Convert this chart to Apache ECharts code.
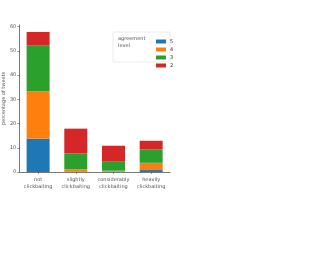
<!DOCTYPE html>
<html><head><meta charset="utf-8">
<script src="https://cdn.jsdelivr.net/npm/echarts@6/dist/echarts.min.js"></script>
<style>html,body{margin:0;padding:0;background:#fff}#c{width:332px;height:278px}</style>
</head><body><div id="c"></div>
<script>
var categories = ['not\nclickbaiting', 'slightly\nclickbaiting', 'considerably\nclickbaiting', 'heavily\nclickbaiting'];
var level5 = [13.8, 0.1, 0.15, 0.8];
var level4 = [19.5, 1.0, 0.4, 3.0];
var level3 = [19.0, 6.6, 3.7, 5.5];
var level2 = [5.5, 10.2, 6.6, 3.6];
var yTicks = [0, 10, 20, 30, 40, 50, 60];
var names = ['5', '4', '3', '2'];
var colors = ['#1f77b4', '#ff7f0e', '#2ca02c', '#d62728'];
var dataSets = [level5, level4, level3, level2];
var font = 'DejaVu Sans';
var chart = echarts.init(document.getElementById('c'));
chart.setOption({
  animation: false,
  textStyle: {fontFamily: font},
  grid: {left: 16.7, right: 162, top: 25, bottom: 106, containLabel: false},
  xAxis: {
    type: 'category', data: categories,
    axisLine: {lineStyle: {color: '#555', width: 0.8}},
    axisTick: {show: true, alignWithLabel: true, length: 2, lineStyle: {color: '#555', width: 0.6}},
    axisLabel: {fontSize: 5, color: '#555', lineHeight: 7, margin: 4, interval: 0, fontFamily: font}
  },
  yAxis: {
    type: 'value', min: 0, max: 60.7, interval: 10,
    name: 'percentage of tweets', nameLocation: 'middle', nameGap: 11,
    nameTextStyle: {fontSize: 5, color: '#555', fontFamily: font},
    splitLine: {show: false},
    axisLine: {show: true, lineStyle: {color: '#555', width: 0.8}},
    axisTick: {show: true, length: 2, lineStyle: {color: '#555', width: 0.6},
      customValues: yTicks},
    axisLabel: {fontSize: 5, color: '#555', margin: 3, fontFamily: font,
      customValues: yTicks,
      formatter: function (v) { return yTicks.indexOf(v) >= 0 ? String(v) : ''; }}
  },
  legend: {
    orient: 'vertical', left: 151, top: 34, itemWidth: 10, itemHeight: 4, itemGap: 3,
    data: names, textStyle: {fontSize: 5, color: '#333', fontFamily: font, padding: [0, 0, 0, -1]},
    icon: 'rect'
  },
  graphic: [
    {type: 'rect', shape: {x: 113, y: 32, width: 57, height: 30, r: 1}, style: {fill: '#fff', stroke: '#ddd', lineWidth: 0.6}, z: -1},
    {type: 'text', left: 118, top: 35, style: {text: 'agreement\nlevel', fontSize: 5, fill: '#555', fontFamily: font, lineHeight: 7}}
  ],
  series: names.map(function (n, i) {
    return {
      name: n, type: 'bar', stack: 'total', data: dataSets[i], barWidth: 23,
      itemStyle: {color: colors[i]}
    };
  })
});
</script></body></html>
